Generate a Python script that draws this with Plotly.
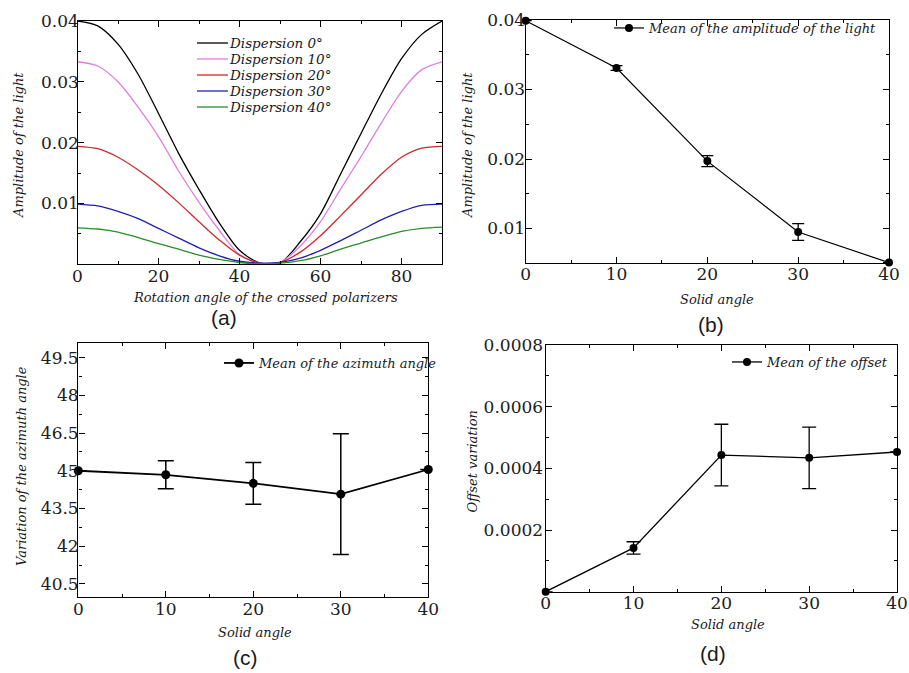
import plotly.graph_objects as go

W, H = 909, 673

# ---------------- data ----------------
rot_angle = [0, 5, 10, 15, 20, 25, 30, 35, 40, 45, 50, 55, 60, 65, 70, 75, 80, 85, 90]
disp_labels = ["Dispersion 0°", "Dispersion 10°", "Dispersion 20°", "Dispersion 30°", "Dispersion 40°"]
amp_disp0 = [0.0400, 0.0392, 0.0362, 0.0312, 0.0248, 0.0182, 0.0123, 0.0068, 0.0023, 0.0002,
             0.0002, 0.0037, 0.0083, 0.0149, 0.0215, 0.0280, 0.0338, 0.0378, 0.0400]
amp_disp10 = [0.0333, 0.0326, 0.0300, 0.0258, 0.0210, 0.0153, 0.0102, 0.0056, 0.0016, 0.0002,
              0.0003, 0.0030, 0.0070, 0.0124, 0.0177, 0.0232, 0.0284, 0.0320, 0.0333]
amp_disp20 = [0.0194, 0.0190, 0.0176, 0.0155, 0.0130, 0.0101, 0.0070, 0.0040, 0.0015, 0.0002,
              0.0003, 0.0020, 0.0047, 0.0080, 0.0114, 0.0148, 0.0176, 0.0191, 0.0194]
amp_disp30 = [0.0099, 0.0096, 0.0087, 0.0075, 0.0059, 0.0043, 0.0027, 0.0014, 0.0005, 0.0002,
              0.0003, 0.0010, 0.0023, 0.0039, 0.0056, 0.0073, 0.0087, 0.0097, 0.0099]
amp_disp40 = [0.0060, 0.0058, 0.0053, 0.0044, 0.0034, 0.0025, 0.0015, 0.0008, 0.0003, 0.0001,
              0.0002, 0.0006, 0.0014, 0.0025, 0.0035, 0.0045, 0.0054, 0.0059, 0.0061]
disp_colors = ["#000000", "#e07ee0", "#cc2b2b", "#2020b0", "#2a8c2a"]

solid_angle = [0, 10, 20, 30, 40]
amp_mean = [0.0399, 0.0331, 0.0197, 0.0095, 0.0051]
amp_err = [0, 0.00035, 0.0008, 0.0012, 0]
azim_mean = [45.0, 44.84, 44.5, 44.07, 45.05]
azim_err = [0, 0.56, 0.83, 2.4, 0]
offset_mean = [0.0, 0.000142, 0.000443, 0.000434, 0.000453]
offset_err = [0, 0.00002, 0.0001, 0.0001, 0]

rot_ticks = [0, 20, 40, 60, 80]
solid_ticks = [0, 10, 20, 30, 40]
amp_ticks = [0.01, 0.02, 0.03, 0.04]
amp_ticklabels = ["0.01", "0.02", "0.03", "0.04"]
azim_ticks = [40.5, 42, 43.5, 45, 46.5, 48, 49.5]
azim_ticklabels = ["40.5", "42", "43.5", "45", "46.5", "48", "49.5"]
off_ticks = [0.0002, 0.0004, 0.0006, 0.0008]
off_ticklabels = ["0.0002", "0.0004", "0.0006", "0.0008"]


def px(x):
    return x / W


def py(y):
    return 1 - y / H


TICKFONT = dict(family="DejaVu Serif", size=17, color="#202020")
ITAL = dict(family="DejaVu Serif", size=13, color="#1a1a1a", style="italic")
LEGFONT = dict(family="DejaVu Serif", size=13.5, color="#1a1a1a", style="italic")
PANEL = dict(family="Liberation Sans", size=21, color="#1a1a1a")

fig = go.Figure()

# ---- (a) ----
amp_series = [amp_disp0, amp_disp10, amp_disp20, amp_disp30, amp_disp40]
for name, vals, col in zip(disp_labels, amp_series, disp_colors):
    fig.add_trace(go.Scatter(x=rot_angle, y=vals, mode="lines", name=name,
                             line=dict(color=col, width=1.3, shape="spline", smoothing=0.8),
                             showlegend=False, xaxis="x", yaxis="y"))

# ---- (b) ----
fig.add_trace(go.Scatter(x=solid_angle, y=amp_mean, mode="lines+markers",
                         name="Mean of the amplitude of the light",
                         line=dict(color="black", width=1.2),
                         marker=dict(color="black", size=8),
                         error_y=dict(type="data", array=amp_err, color="black", thickness=1.3, width=6),
                         cliponaxis=False, xaxis="x2", yaxis="y2", legend="legend"))
# ---- (c) ----
fig.add_trace(go.Scatter(x=solid_angle, y=azim_mean, mode="lines+markers",
                         name="Mean of the azimuth angle",
                         line=dict(color="black", width=1.8),
                         marker=dict(color="black", size=9),
                         error_y=dict(type="data", array=azim_err, color="black", thickness=1.5, width=8),
                         cliponaxis=False, xaxis="x3", yaxis="y3", legend="legend2"))
# ---- (d) ----
fig.add_trace(go.Scatter(x=solid_angle, y=offset_mean, mode="lines+markers",
                         name="Mean of the offset",
                         line=dict(color="black", width=1.3),
                         marker=dict(color="black", size=8),
                         error_y=dict(type="data", array=offset_err, color="black", thickness=1.3, width=7),
                         cliponaxis=False, xaxis="x4", yaxis="y4", legend="legend3"))


def axis(domain, rng, tickvals, ticktext=None, minor=None, anchor=None, standoff=0):
    d = dict(domain=domain, range=rng, tickmode="array", tickvals=tickvals,
             showline=True, linecolor="black", linewidth=1.4, mirror="ticks",
             ticks="inside", ticklen=6, tickwidth=1.2, tickcolor="black",
             showgrid=False, zeroline=False, tickfont=TICKFONT, automargin=False,
             anchor=anchor, ticklabelstandoff=standoff, ticklabeloverflow="allow")
    if ticktext is not None:
        d["ticktext"] = ticktext
    if minor is not None:
        d["minor"] = dict(dtick=minor, ticks="inside", ticklen=3, tickwidth=1.0,
                          tickcolor="black", showgrid=False)
    return d


fig.update_layout(
    width=W, height=H, autosize=False,
    margin=dict(l=0, r=0, t=0, b=0),
    paper_bgcolor="white", plot_bgcolor="white",
    xaxis=axis([px(77.5), px(442)], [0, 90], rot_ticks, minor=10, anchor="y", standoff=-4),
    yaxis=axis([py(264.3), py(21)], [0, 0.04], amp_ticks, amp_ticklabels, minor=0.005,
               anchor="x", standoff=-6),
    xaxis2=axis([px(525.7), px(889)], [0, 40], solid_ticks, minor=5, anchor="y2", standoff=-5),
    yaxis2=axis([py(263.3), py(20)], [0.005, 0.04], amp_ticks, amp_ticklabels, minor=0.005,
                anchor="x2", standoff=-4),
    xaxis3=axis([px(78.3), px(428.3)], [0, 40], solid_ticks, minor=5, anchor="y3", standoff=-4),
    yaxis3=axis([py(597), py(343)], [39.98, 50.08], azim_ticks, azim_ticklabels, minor=0.75,
                anchor="x3", standoff=-5),
    xaxis4=axis([px(545.7), px(897)], [0, 40], solid_ticks, minor=5, anchor="y4", standoff=-4),
    yaxis4=axis([py(591.7), py(345)], [0, 0.0008], off_ticks, off_ticklabels, minor=0.0001,
                anchor="x4", standoff=-2),
    legend=dict(x=px(609), y=py(28), xanchor="left", yanchor="middle", font=ITAL,
                bgcolor="rgba(0,0,0,0)", borderwidth=0),
    legend2=dict(x=px(219), y=py(363), xanchor="left", yanchor="middle", font=ITAL,
                 bgcolor="rgba(0,0,0,0)", borderwidth=0),
    legend3=dict(x=px(727), y=py(362), xanchor="left", yanchor="middle", font=ITAL,
                 bgcolor="rgba(0,0,0,0)", borderwidth=0),
)

# manual legend for panel (a)
legend_rows = [43, 59, 75, 91, 107]
shapes = []
annotations = []
for lab, col, yrow in zip(disp_labels, disp_colors, legend_rows):
    shapes.append(dict(type="line", xref="paper", yref="paper", x0=px(197), x1=px(228),
                       y0=py(yrow), y1=py(yrow), line=dict(color=col, width=1.3)))
    annotations.append(dict(text=lab, xref="paper", yref="paper", x=px(227), y=py(yrow),
                            xanchor="left", yanchor="middle", showarrow=False, font=LEGFONT))

# axis titles
titles = [
    ("Rotation angle of the crossed polarizers", 265, 297, 0),
    ("Amplitude of the light", 18, 145, -90),
    ("Solid angle", 717, 299, 0),
    ("Amplitude of the light", 467, 145, -90),
    ("Solid angle", 255, 632.5, 0),
    ("Variation of the azimuth angle", 21, 466, -90),
    ("Solid angle", 728, 624, 0),
    ("Offset variation", 471.5, 462, -90),
]
for t, x, y, ang in titles:
    annotations.append(dict(text=t, xref="paper", yref="paper", x=px(x), y=py(y),
                            xanchor="center", yanchor="middle", showarrow=False,
                            textangle=ang, font=ITAL))

panel_labels = [("(a)", 224, 317.5), ("(b)", 711, 324), ("(c)", 245, 657), ("(d)", 713, 653)]
for t, x, y in panel_labels:
    annotations.append(dict(text=t, xref="paper", yref="paper", x=px(x), y=py(y),
                            xanchor="center", yanchor="middle", showarrow=False, font=PANEL))

fig.update_layout(shapes=shapes, annotations=annotations)

fig.write_html("out.html", config={"displayModeBar": False},
               post_script="document.body.style.margin='0';document.body.style.overflow='hidden';")
